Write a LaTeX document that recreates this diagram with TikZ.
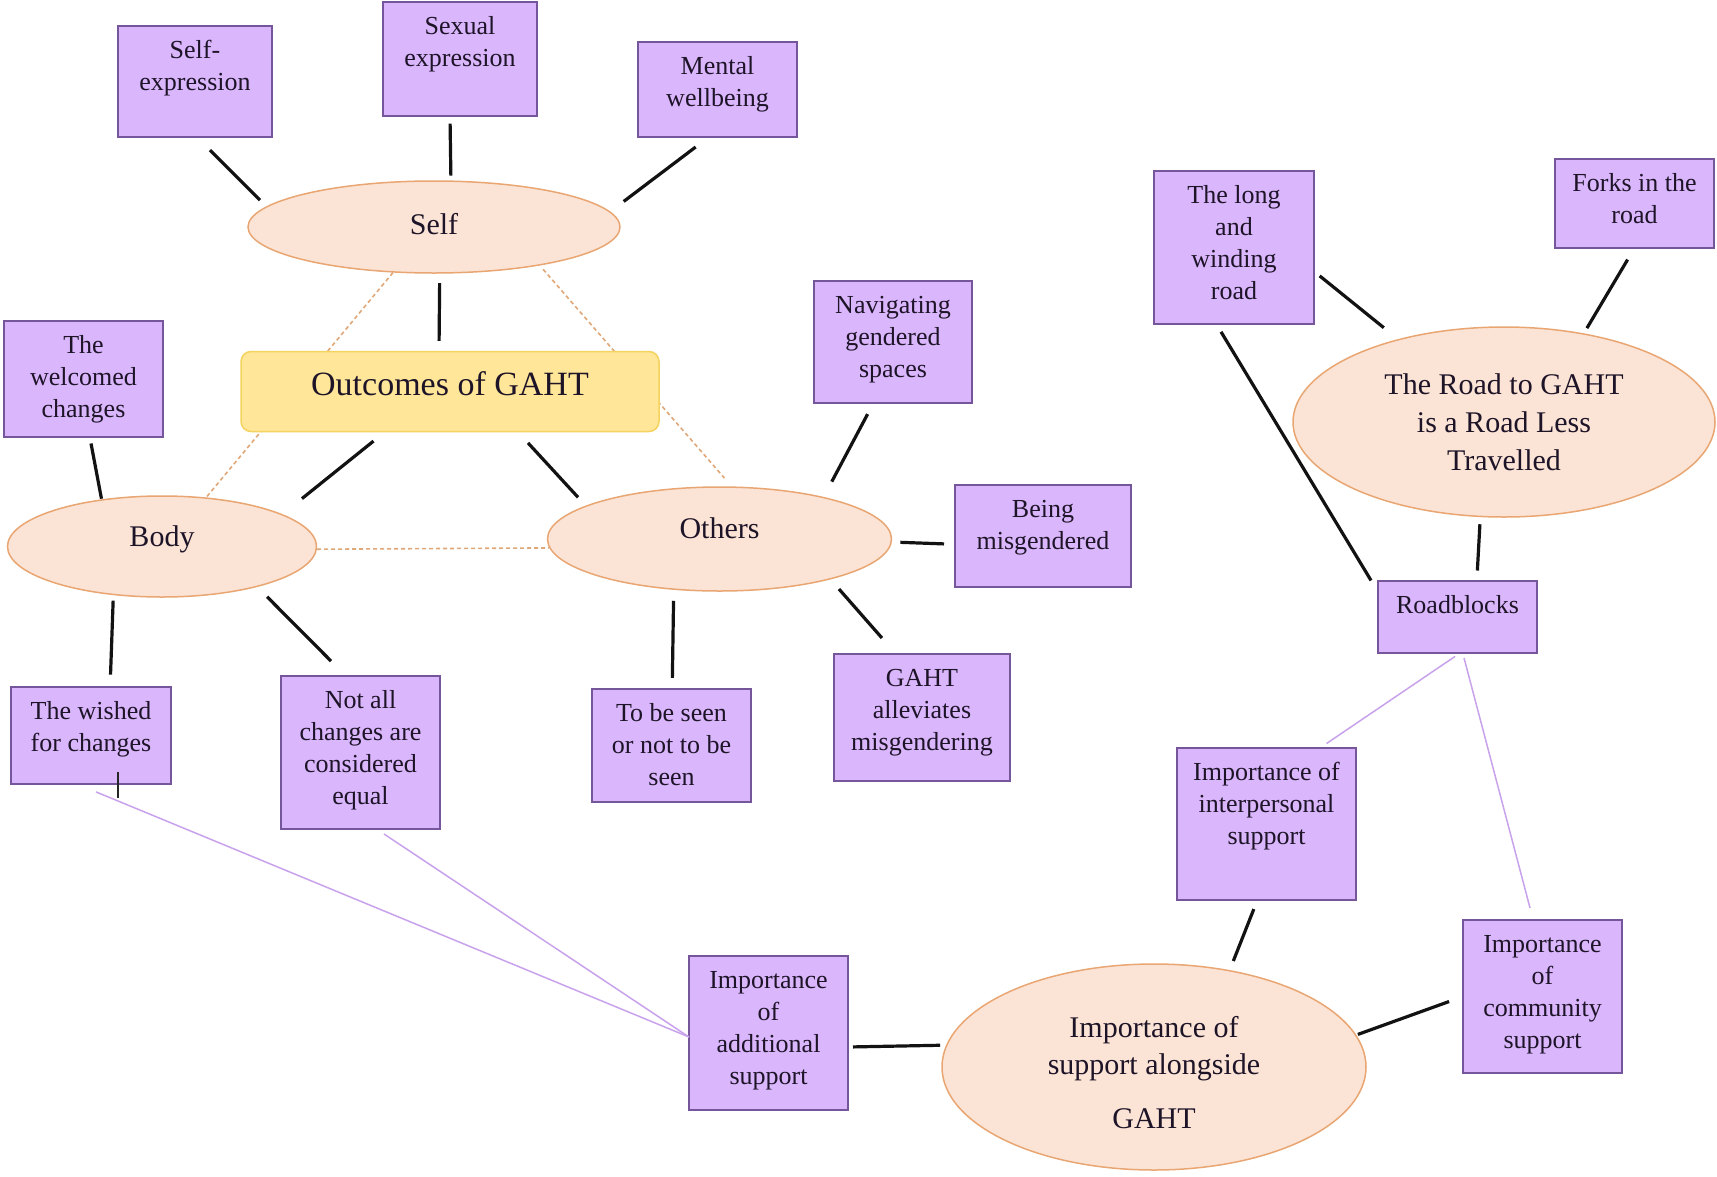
\documentclass[tikz,border=0pt]{standalone}
\usepackage{fontspec}
\setmainfont{Liberation Serif}
\usetikzlibrary{shapes.geometric}
\definecolor{boxfill}{HTML}{DAB6FC}
\definecolor{boxline}{HTML}{76569A}
\definecolor{ellfill}{HTML}{FBE4D6}
\definecolor{ellline}{HTML}{E9A673}
\definecolor{ctrfill}{HTML}{FFE699}
\definecolor{ctrline}{HTML}{F4D35E}
\definecolor{dashcol}{HTML}{E0A878}
\definecolor{lilac}{HTML}{C9A2EC}
\definecolor{txt}{HTML}{1E1428}
\tikzset{
  pbox/.style={rectangle, draw=boxline, line width=1.8pt, fill=boxfill, inner sep=0pt, outer sep=0pt, text=txt, font=\fontsize{26}{32}\selectfont},
  ell/.style={ellipse, draw=ellline, line width=1.5pt, fill=ellfill, inner sep=0pt, text=txt, align=center, font=\fontsize{30}{38}\selectfont},
  ctr/.style={rectangle, rounded corners=10pt, draw=ctrline, line width=1.5pt, fill=ctrfill, inner sep=0pt, text=txt, font=\fontsize{34}{40}\selectfont},
  conn/.style={line width=3.2pt, draw=black!93},
  tickline/.style={line width=2pt, draw=black!85},
  lil/.style={line width=1.5pt, draw=lilac},
  dsh/.style={line width=1.6pt, draw=dashcol, dash pattern=on 4pt off 3pt}
}
\newcommand{\mybox}[6]{\node[pbox] (#1) at (#2,#3) {\parbox[c][#5pt][t]{#4pt}{\centering\rule{0pt}{32pt}#6}};}
\begin{document}
\begin{tikzpicture}[x=1pt,y=-1pt]
\fill[white] (0,0) rectangle (1717,1176);
\useasboundingbox (0,0) rectangle (1717,1176);

% ellipses
\node[ell, minimum width=372pt, minimum height=92pt, text height=20.6pt, text depth=5pt] (self) at (434,227) {Self};
\node[ell, minimum width=309pt, minimum height=101pt, text height=10pt, text depth=10pt] (body) at (162,546.5) {Body};
\node[ell, minimum width=344pt, minimum height=104pt, text height=10pt, text depth=10.2pt] (others) at (719.5,539) {Others};
\node[ell, minimum width=422pt, minimum height=190pt] (road) at (1504,422) {The Road to GAHT\\is a Road Less\\Travelled};
\node[ell, minimum width=424pt, minimum height=206pt, font=\fontsize{30}{37}\selectfont] (supp) at (1154,1067) {\rule{0pt}{31.5pt}Importance of\\support alongside\\[17pt]GAHT};

% dashed triangle (behind the centre box)
\draw[dsh] (self.-132.7) -- (body.48.1);
\draw[dsh, shorten <=5pt, shorten >=11pt] (self.-20.3) -- (others.77.2);
\draw[dsh] (body.-1.2) -- (others.183.6);

% centre box
\node[ctr, minimum width=418pt, minimum height=80pt, text height=12pt, text depth=5pt] (gaht) at (450,391.5) {Outcomes of GAHT};

% purple boxes
\mybox{selfexp}{195}{81.5}{154}{111}{Self-\\expression}
\mybox{sexexp}{460}{59}{154}{114}{Sexual\\expression}
\mybox{mental}{717.5}{89.5}{159}{95}{Mental\\wellbeing}
\mybox{welcomed}{83.5}{379}{159}{116}{The\\welcomed\\changes}
\mybox{navig}{893}{342}{158}{122}{Navigating\\gendered\\spaces}
\mybox{misg}{1043}{536}{176}{102}{Being\\misgendered}
\mybox{allev}{922}{717.5}{176}{127}{GAHT\\alleviates\\misgendering}
\mybox{seen}{671.5}{745.5}{159}{113}{To be seen\\or not to be\\seen}
\mybox{notall}{360.5}{752.5}{159}{153}{Not all\\changes are\\considered\\equal}
\mybox{wished}{91}{735.5}{160}{97}{The wished\\for changes}
\mybox{longroad}{1234}{247.5}{160}{153}{The long\\and\\winding\\road}
\mybox{forks}{1634.5}{203.5}{159}{89}{Forks in the\\road}
\mybox{roadb}{1457.5}{617}{159}{72}{Roadblocks}
\mybox{interp}{1266.5}{824}{179}{152}{Importance of\\interpersonal\\support}
\mybox{commun}{1542.5}{996.5}{159}{153}{Importance\\of\\community\\support}
\mybox{addl}{768.5}{1033}{159}{154}{Importance\\of\\additional\\support}

% black connectors
\draw[conn, shorten <=18.4pt, shorten >=9pt] ([xshift=2pt]selfexp.south) -- (self.173.1);
\draw[conn, shorten <=7.7pt, shorten >=4.9pt] ([xshift=-10pt]sexexp.south) -- (self.70.7);
\draw[conn, shorten <=16.6pt, shorten >=16.8pt] ([xshift=-8.6pt]mental.south) -- (self.5.5);
\draw[conn, shorten <=9.5pt, shorten >=9.8pt] (self.-83.8) -- ([xshift=-11pt]gaht.north);
\draw[conn, shorten <=14.1pt, shorten >=24.9pt] ([xshift=-65.5pt]gaht.south) -- (body.15.7);
\draw[conn, shorten <=14.5pt, shorten >=11.3pt] ([xshift=68.2pt]gaht.south) -- (others.166.6);
\draw[conn, shorten <=6.6pt, shorten >=0.6pt] ([xshift=6.3pt]welcomed.south) -- (body.142.7);
\draw[conn, shorten <=5.5pt, shorten >=12.4pt] (body.-135) -- ([xshift=19.1pt]wished.north);
\draw[conn, shorten <=13.9pt, shorten >=21pt] (body.-23.8) -- ([xshift=-14.6pt]notall.north);
\draw[conn, shorten <=10.9pt, shorten >=11.1pt] (others.-132.5) -- ([xshift=0.7pt]seen.north);
\draw[conn, shorten <=12.8pt, shorten >=21.3pt] (others.-20.7) -- ([xshift=-26pt]allev.north);
\draw[conn, shorten <=8.4pt, shorten >=11pt] (others.-1.8) -- ([yshift=-8.3pt]misg.west);
\draw[conn, shorten <=17.3pt, shorten >=12.6pt] (others.22.6) -- ([xshift=-19.5pt]navig.south);
\draw[conn, shorten <=7.3pt, shorten >=18.2pt] ([yshift=-23.8pt]longroad.east) -- (road.142.6);
\draw[conn, shorten <=13.5pt, shorten >=6pt] (forks.south) -- (road.48.8);
\draw[conn, shorten <=9.1pt, shorten >=13.5pt] ([xshift=-17.7pt]longroad.south) -- ([yshift=25pt]roadb.west);
\draw[conn, shorten <=7.1pt, shorten >=10.5pt] (road.-104.4) -- ([xshift=19.3pt]roadb.north);
\draw[conn, shorten <=9.75pt, shorten >=9.75pt] ([xshift=-9.1pt]interp.south) -- (supp.52.5);
\draw[conn, shorten <=14.8pt, shorten >=1.6pt] (commun.west) -- (supp.9.3);
\draw[conn, shorten <=5pt, shorten >=6pt] ([yshift=-14pt]addl.east) -- (supp.174.5);
\draw[tickline] ([xshift=27.3pt,yshift=12.3pt]wished.south) -- ([xshift=27.3pt,yshift=-14pt]wished.south);

% lilac connectors
\draw[lil, shorten <=6pt, shorten >=8pt] ([xshift=2.6pt]roadb.south) -- ([xshift=53.4pt]interp.north);
\draw[lil, shorten <=5.2pt, shorten >=12.4pt] ([xshift=5.2pt]roadb.south) -- ([xshift=-9.3pt]commun.north);
\draw[lil, shorten <=20.7pt] ([xshift=-14.1pt]wished.south) -- ([yshift=-4pt]addl.west);
\draw[lil, shorten <=9pt] ([xshift=16pt]notall.south) -- ([yshift=-4pt]addl.west);
\end{tikzpicture}
\end{document}
